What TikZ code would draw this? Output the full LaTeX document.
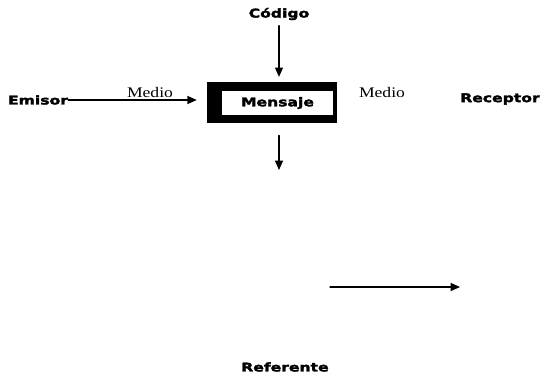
\documentclass[tikz,border=0pt]{standalone}
\usepackage{fontspec}
\usepackage{tikz}
\usetikzlibrary{arrows.meta}
\usetikzlibrary{positioning}
\newfontfamily\blkfont[FakeStretch=1.3,FakeBold=2.5]{DejaVu Sans}
\newfontfamily\medfont[FakeStretch=1.2]{Liberation Serif}
\tikzset{
  heavy/.style={font=\blkfont\bfseries\fontsize{9}{10}\selectfont,inner sep=0pt},
  medio/.style={font=\medfont\fontsize{11}{13}\selectfont,inner sep=0pt},
  flow/.style={-{Triangle[length=7pt,width=6pt]},line width=0.9pt,color=black}
}
\begin{document}
\begin{tikzpicture}[line cap=round,line join=round,x=0.75pt,y=-0.75pt]
\useasboundingbox (0,0) rectangle (544,375);
\node[fill=black,minimum width=97.5pt,minimum height=31pt,inner sep=0pt] (msg) at (272,102.5) {};
\node[heavy,fill=white,minimum width=83pt,minimum height=18pt] (msgin) at (277.5,103) {Mensaje};
\node[heavy] (cod) at (279,14) {Código};
\node[heavy] (emi) at (38,100) {Emisor};
\node[heavy] (rec) at (500,99) {Receptor};
\node[heavy] (ref) at (285,367) {Referente};
\node[medio] (med1) at (150,92) {Medio};
\node[medio] (med2) at (382,92) {Medio};
\coordinate (down) at (279,170);
\coordinate (arra) at (330,287);
\coordinate (arrb) at (460,287);
\draw[flow,shorten >=7.5pt,shorten <=0pt] (emi.east) -- (emi.east -| msg.west);
\draw[flow,shorten <=4pt,shorten >=3.5pt] (cod.south -| 279,0) -- (279,0 |- msg.north);
\draw[flow,shorten <=9pt] (279,0 |- msg.south) -- (down);
\draw[flow] (arra) -- (arrb);
\end{tikzpicture}
\end{document}
